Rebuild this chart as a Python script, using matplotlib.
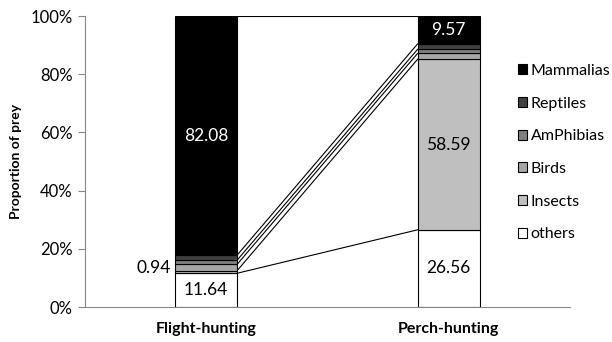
import matplotlib.pyplot as plt
from matplotlib.patches import Patch
from matplotlib.ticker import PercentFormatter

plt.rcParams['font.family'] = ['Lato', 'DejaVu Sans']

groups = ["Flight-hunting", "Perch-hunting"]
prey = ["others", "Insects", "Birds", "AmPhibias", "Reptiles", "Mammalias"]
colors = ["#ffffff", "#bfbfbf", "#a6a6a6", "#7f7f7f", "#404040", "#000000"]

# percentage of each prey type per hunting mode
others = [11.64, 26.56]
insects = [0.94, 58.59]
birds = [2.18, 2.00]
amphibias = [1.44, 1.42]
reptiles = [1.72, 1.86]
mammalias = [82.08, 9.57]
values = [others, insects, birds, amphibias, reptiles, mammalias]

fig = plt.figure(figsize=(6.12, 3.42), dpi=100)
ax = fig.add_axes([0.139, 0.102, 0.792, 0.851])

width = 0.256
x = range(len(groups))
bottoms = [0.0, 0.0]
tops = []
for name, col, vals in zip(prey, colors, values):
    ax.bar(x, [v / 100 for v in vals], width, bottom=[b / 100 for b in bottoms],
           color=col, edgecolor="black", linewidth=0.8, zorder=2)
    bottoms = [b + v for b, v in zip(bottoms, vals)]
    tops.append(list(bottoms))

# series lines joining the segment boundaries
for t in tops:
    ax.plot([width / 2, 1 - width / 2], [t[0] / 100, t[1] / 100],
            color="black", linewidth=0.8, zorder=1)

# value labels
def mid(i, k):
    lo = tops[k - 1][i] if k > 0 else 0
    return (lo + tops[k][i]) / 200

lab = dict(ha="center", va="center", fontsize=12.5)
ax.text(0, mid(0, 0), f"{others[0]:.2f}", color="black", **lab)
ax.text(0, mid(0, 5), f"{mammalias[0]:.2f}", color="white", **lab)
ax.text(-0.148, mid(0, 1) + 0.012, f"{insects[0]:.2f}", color="black",
        ha="right", va="center", fontsize=12.5)
ax.text(1, mid(1, 0), f"{others[1]:.2f}", color="black", **lab)
ax.text(1, mid(1, 1), f"{insects[1]:.2f}", color="black", **lab)
ax.text(1, mid(1, 5), f"{mammalias[1]:.2f}", color="white", **lab)

ax.set_xlim(-0.5, 1.5)
ax.set_ylim(0, 1)
ax.set_xticks(list(x))
ax.set_xticklabels(groups, fontsize=11.5, fontweight="bold")
ax.tick_params(axis="x", length=0, pad=11)
ax.set_yticks([0, 0.2, 0.4, 0.6, 0.8, 1.0])
ax.yaxis.set_major_formatter(PercentFormatter(1.0, decimals=0))
ax.tick_params(axis="y", labelsize=12, length=5, color="#868686", pad=4)
ax.set_ylabel("Proportion of prey", fontsize=10, fontweight="bold", labelpad=6)
for s in ["top", "right"]:
    ax.spines[s].set_visible(False)
for s in ["left", "bottom"]:
    ax.spines[s].set_color("#868686")

handles = [Patch(facecolor=c, edgecolor="black", linewidth=0.8, label=n)
           for n, c in zip(prey, colors)][::-1]
fig.legend(handles=handles, loc="upper left", bbox_to_anchor=(0.846, 0.813),
           frameon=False, fontsize=11.5, handlelength=0.6, handleheight=0.6,
           handletextpad=0.2, labelspacing=1.17, borderpad=0, borderaxespad=0)

fig.savefig("out.png", dpi=100)
